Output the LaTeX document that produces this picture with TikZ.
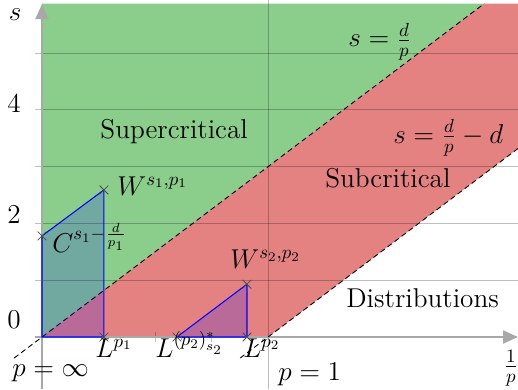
\documentclass[tikz,border=0pt]{standalone}
\usetikzlibrary{arrows.meta,shapes.misc}
\definecolor{supg}{RGB}{139,205,139}
\definecolor{subr}{RGB}{228,130,130}
\definecolor{axg}{RGB}{168,168,168}
\begin{document}
\begin{tikzpicture}[x=4.52cm,y=1.136cm,
  lbl/.style={font=\Large, scale=1.076, inner sep=0pt, anchor=base west},
  plain/.style={font=\Large, scale=1.076},
  mk/.style={cross out, draw=black!70, line width=0.45pt, minimum size=4.5pt, inner sep=0pt},
  gridln/.style={draw=black, draw opacity=0.25, line width=0.5pt},
  axisln/.style={draw=axg, line width=0.8pt, -{Triangle[length=8.5pt,width=7.5pt]}},
  bnd/.style={dash pattern=on 3pt off 2pt, line width=0.5pt},
  reg/.style={draw=blue, line width=0.6pt, fill=blue, fill opacity=0.18}]
\useasboundingbox (-0.84cm,-1.04cm) rectangle (9.52cm,6.74cm);
% key points
\coordinate (O) at (0,0);
\coordinate (P1) at (1,0);
\coordinate (gtopL) at (0,5.87);
\coordinate (gtopR) at (1.957,5.87);
\coordinate (rR1) at (2.11,3.33);
\coordinate (rR2) at (2.11,5.87);
% regions
\fill[supg] (O) -- (gtopL) -- (gtopR) -- cycle;
\fill[subr] (O) -- (P1) -- (rR1) -- (rR2) -- (gtopR) -- cycle;
% grid
\foreach \s in {1,...,5} \draw[gridln] (-0.031,\s) -- (2.11,\s);
\draw[gridln] (1,-0.92) -- (1,5.93);
\draw[gridln] (0.5,-0.09) -- (0.5,0.09);
\draw[gridln] (0.75,-0.09) -- (0.75,0.09);
% axes
\coordinate (xa0) at (-0.031,0);
\coordinate (xa1) at (2.106,0);
\coordinate (ya0) at (0,-0.92);
\coordinate (ya1) at (0,5.86);
\draw[axisln] (xa0) -- (xa1);
\draw[axisln] (ya0) -- (ya1);
% boundary lines
\coordinate (b1a) at (-0.123,-0.37);
\coordinate (b2a) at (0.877,-0.37);
\draw[bnd] (b1a) -- (gtopR);
\draw[bnd] (b2a) -- (rR1);
% spaces
\coordinate (c1) at (0,1.78);
\coordinate (w1) at (0.274,2.59);
\coordinate (l1) at (0.274,0);
\coordinate (l2s) at (0.597,0);
\coordinate (l2) at (0.907,0);
\coordinate (w2) at (0.907,0.93);
\draw[reg] (O) -- (c1) -- (w1) -- (l1) -- cycle;
\draw[reg] (l2s) -- (w2) -- (l2) -- cycle;
\foreach \p in {c1,w1,l1,l2s,l2,w2} \node[mk] (m\p) at (\p) {};
% labels
\node[plain] (slab) at (-0.119,5.67) {$s$};
\node[plain] (t4) at (-0.124,4.12) {4};
\node[plain] (t2) at (-0.124,2.15) {2};
\node[plain] (t0) at (-0.124,0.30) {0};
\node[lbl] (sup) at (0.257,3.50) {Supercritical};
\node[lbl] (sub) at (1.252,2.64) {Subcritical};
\node[lbl] (dist) at (1.345,0.528) {Distributions};
\node[lbl] (lw1) at (0.332,2.50) {$W^{s_1,p_1}$};
\node[lbl] (lc1) at (0.044,1.48) {$C^{s_1-\frac{d}{p_1}}$};
\node[lbl] (lw2) at (0.832,1.20) {$W^{s_2,p_2}$};
\node[lbl] (lsd) at (1.354,5.106) {$s=\frac{d}{p}$};
\node[lbl] (lsdd) at (1.553,3.415) {$s=\frac{d}{p}-d$};
\node[lbl] (ll1) at (0.2345,-0.352) {$L^{p_1}$};
\node[lbl] (ll2s) at (0.50,-0.352) {$L^{(p_2)^*_{s_2}}$};
\node[lbl] (ll2) at (0.889,-0.352) {$L^{p_2}$};
\node[lbl] (pinf) at (-0.133,-0.687) {$p=\infty$};
\node[lbl] (pone) at (1.044,-0.757) {$p=1$};
\node[plain] (oneoverp) at (2.075,-0.546) {$\frac{1}{p}$};
\end{tikzpicture}
\end{document}
